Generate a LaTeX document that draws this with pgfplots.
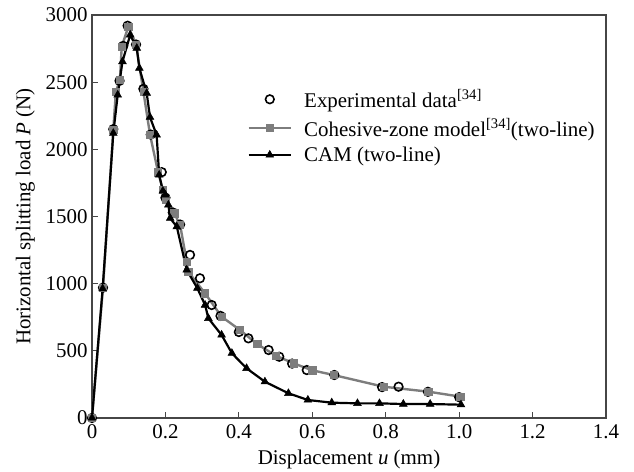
\documentclass[border=0pt]{standalone}
\usepackage{pgfplots}
\pgfplotsset{compat=1.18}
\usepackage{fontspec}
\setmainfont{Liberation Serif}
\definecolor{cgray}{RGB}{125,125,125}
\definecolor{axc}{RGB}{70,70,70}
\pgfplotsset{mylegend/.style={legend image code/.code={\draw[mark repeat=2,mark phase=2,##1] plot coordinates {(0cm,0cm) (0.75cm,0cm) (1.5cm,0cm)};}}}
\begin{document}
\begin{tikzpicture}[x=1bp,y=1bp]
\path[use as bounding box] (-92,-54) rectangle (542,418);
\begin{axis}[
  at={(0,0)}, anchor=south west,
  scale only axis, width=514bp, height=403bp,
  xmin=0, xmax=1.4, ymin=0, ymax=3000,
  xtick={0,0.2,0.4,0.6,0.8,1.0,1.2,1.4},
  xticklabels={0,0.2,0.4,0.6,0.8,1.0,1.2,1.4},
  ytick={0,500,1000,1500,2000,2500,3000},
  yticklabels={0,500,1000,1500,2000,2500,3000},
  tick pos=left, tick align=inside,
  major tick length=6bp,
  axis line style={axc, line width=1.3pt},
  every tick/.style={axc, line width=1pt},
  tick label style={font=\rmfamily\fontsize{21}{23}\selectfont},
  xticklabel style={yshift=-3bp},
  yticklabel style={xshift=-1bp},
  xlabel={Displacement \textit{u} (mm)},
  ylabel={Horizontal splitting load \textit{P} (N)},
  label style={font=\rmfamily\fontsize{21}{23}\selectfont},
  xlabel style={yshift=-4bp},
  ylabel style={yshift=4bp},
  legend style={draw=none, fill=none, font=\rmfamily\fontsize{21}{23}\selectfont,
    at={(0.296,0.825)}, anchor=north west, row sep=5.5bp,
    /tikz/every odd column/.append style={column sep=10bp}},
  legend cell align=left,
  clip=false,
]
\addplot[only marks, mark=o, mark size=4.3bp, line width=1.6pt, black, mylegend] coordinates {
(0,0)(0.03,970)(0.058,2150)(0.075,2510)(0.085,2770)(0.097,2920)(0.12,2780)(0.14,2450)
(0.16,2110)(0.19,1830)(0.2,1640)(0.22,1530)(0.24,1440)(0.267,1214)(0.294,1040)
(0.326,841)(0.35,760)(0.4,640)(0.426,593)(0.481,506)(0.51,456)(0.545,405)(0.585,357)
(0.66,320)(0.79,230)(0.835,233)(0.915,195)(1.0,155)
};
\addlegendentry{Experimental data\textsuperscript{[34]}}
\addplot[cgray, line width=2.4pt, mark=square*, mark size=3.6bp,
  mark options={fill=cgray, draw=cgray, line width=0.5pt}, mylegend] coordinates {
(0,0)(0.03,970)(0.058,2144)(0.065,2430)(0.076,2517)(0.081,2765)(0.099,2913)(0.12,2780)
(0.14,2430)(0.158,2110)(0.18,1830)(0.193,1700)(0.2,1623)(0.224,1524)(0.24,1437)
(0.258,1164)(0.262,1089)(0.308,928)(0.353,754)(0.403,655)(0.45,550)(0.5,465)
(0.549,407)(0.6,355)(0.658,320)(0.794,233)(0.916,196)(1.003,159)
};
\addlegendentry{Cohesive-zone model\textsuperscript{[34]}(two-line)}
\addplot[black, line width=2.2pt, mark=triangle*, mark size=4.5bp,
  mark options={fill=black, line width=0.5pt}, mylegend] coordinates {
(0,0)(0.029,963)(0.058,2120)(0.07,2405)(0.083,2653)(0.104,2852)(0.122,2753)(0.129,2604)
(0.149,2418)(0.158,2239)(0.176,2107)(0.183,1809)(0.193,1690)(0.2,1660)(0.208,1586)
(0.213,1487)(0.231,1424)(0.258,1102)(0.287,966)(0.308,841)(0.317,742)(0.353,618)
(0.381,482)(0.421,370)(0.471,270)(0.535,184)(0.588,134)(0.653,114)(0.723,109)
(0.783,109)(0.848,104)(0.921,104)(1.005,99)
};
\addlegendentry{CAM (two-line)}
\end{axis}
\end{tikzpicture}
\end{document}
